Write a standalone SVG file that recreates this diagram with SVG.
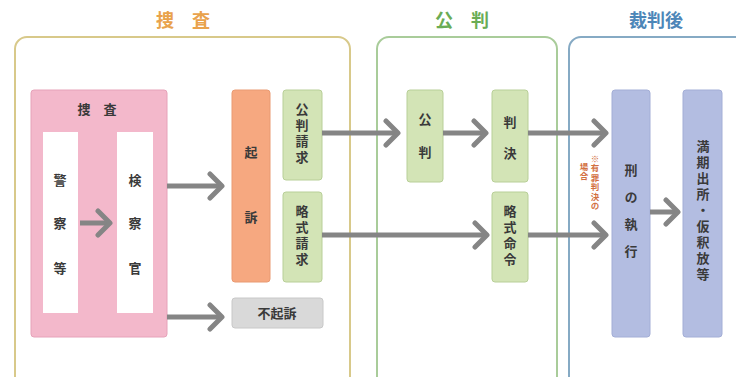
<svg xmlns="http://www.w3.org/2000/svg" width="736" height="377" viewBox="0 0 736 377">
<style>
text{font-family:"Noto Sans CJK JP","Noto Sans CJK SC",sans-serif;fill:#3a3a3a;font-weight:bold}
.t{font-size:13px;text-anchor:middle}
.v{font-size:13px;writing-mode:vertical-rl;text-anchor:middle;letter-spacing:3px}
.head{font-size:18px;text-anchor:middle;font-weight:bold}
.note{font-size:8.5px;writing-mode:vertical-rl;text-anchor:middle;letter-spacing:1px;fill:#d2703f}
.frame{fill:none;stroke-width:2}
.g{fill:#d3e4b6;stroke:#b8cf98;stroke-width:1}
.c{fill:none;stroke:#858585;stroke-width:5}
</style>
<defs>
<marker id="ah" viewBox="0 0 20 30" refX="16" refY="15" markerWidth="20" markerHeight="30" markerUnits="userSpaceOnUse" orient="auto">
<path d="M4,3 L16,15 L4,27" fill="none" stroke="#858585" stroke-width="5" stroke-linecap="round" stroke-linejoin="round"/>
</marker>
</defs>
<rect width="736" height="377" fill="#ffffff"/>

<g id="section-sousa">
<rect class="frame" x="15" y="37" width="335" height="360" rx="12" stroke="#d8c98a"/>
<text class="head" x="183" y="27" style="fill:#e9a24c">捜　査</text>
</g>
<g id="section-kouhan">
<rect class="frame" x="377" y="37" width="180" height="360" rx="12" stroke="#a9cc9a"/>
<text class="head" x="462" y="27" style="fill:#6aac55">公　判</text>
</g>
<g id="section-saibango">
<rect class="frame" x="569" y="37" width="190" height="360" rx="12" stroke="#86aac4"/>
<text class="head" x="656" y="27" style="fill:#4d86b8">裁判後</text>
</g>

<g id="sousa-box">
<rect x="31" y="90" width="136" height="247" rx="3" fill="#f3b8cb" stroke="#e6a2b9"/>
<text class="t" x="97" y="114">捜　査</text>
<rect x="43" y="132" width="35" height="181" fill="#ffffff"/>
<rect x="117" y="132" width="36" height="181" fill="#ffffff"/>
<text class="t" x="60" y="185">警</text>
<text class="t" x="60" y="228">察</text>
<text class="t" x="60" y="273">等</text>
<text class="t" x="135" y="185">検</text>
<text class="t" x="135" y="228">察</text>
<text class="t" x="135" y="273">官</text>
<path class="c" d="M80,223 L110,223" marker-end="url(#ah)"/>
</g>

<g id="kiso">
<rect x="232" y="90" width="38" height="192" rx="3" fill="#f6a880" stroke="#e99a72"/>
<text class="t" x="251" y="157">起</text>
<text class="t" x="251" y="222">訴</text>
</g>
<g id="kouhan-seikyu">
<rect class="g" x="283" y="90" width="39" height="90" rx="3"/>
<text class="v" x="302" y="135">公判請求</text>
</g>
<g id="ryakushiki-seikyu">
<rect class="g" x="283" y="192" width="39" height="90" rx="3"/>
<text class="v" x="302" y="237">略式請求</text>
</g>
<g id="fukiso">
<rect x="232" y="298" width="91" height="30" rx="3" fill="#d9d9d9" stroke="#c8c8c8"/>
<text class="t" x="277" y="318">不起訴</text>
</g>

<g id="kouhan">
<rect class="g" x="407" y="90" width="36" height="92" rx="3"/>
<text class="t" x="425" y="124">公</text>
<text class="t" x="425" y="157">判</text>
</g>
<g id="hanketsu">
<rect class="g" x="492" y="90" width="36" height="92" rx="3"/>
<text class="t" x="510" y="127">判</text>
<text class="t" x="510" y="158">決</text>
</g>
<g id="ryakushiki-meirei">
<rect class="g" x="492" y="192" width="36" height="90" rx="3"/>
<text class="v" x="510" y="237">略式命令</text>
</g>

<g id="kei-no-shikkou">
<rect x="612" y="90" width="38" height="247" rx="3" fill="#b3bde1" stroke="#a3aed6"/>
<text class="v" x="631" y="218" style="letter-spacing:14px">刑の執行</text>
<text class="note" x="595" y="183" style="fill:#d2703f">※有罪判決の</text>
<text class="note" x="584" y="172" style="fill:#d2703f">場合</text>
</g>
<g id="mankishussho">
<rect x="683" y="90" width="39" height="247" rx="3" fill="#b3bde1" stroke="#a3aed6"/>
<text class="v" x="703" y="212">満期出所・仮釈放等</text>
</g>

<g id="connectors">
<path class="c" d="M167,186 L222,186" marker-end="url(#ah)"/>
<path class="c" d="M167,317 L222,317" marker-end="url(#ah)"/>
<path class="c" d="M322,133 L398,133" marker-end="url(#ah)"/>
<path class="c" d="M443,133 L486,133" marker-end="url(#ah)"/>
<path class="c" d="M322,235 L487,235" marker-end="url(#ah)"/>
<path class="c" d="M528,133 L606,133" marker-end="url(#ah)"/>
<path class="c" d="M528,235 L606,235" marker-end="url(#ah)"/>
<path class="c" d="M650,212 L678,212" marker-end="url(#ah)"/>
</g>
</svg>
